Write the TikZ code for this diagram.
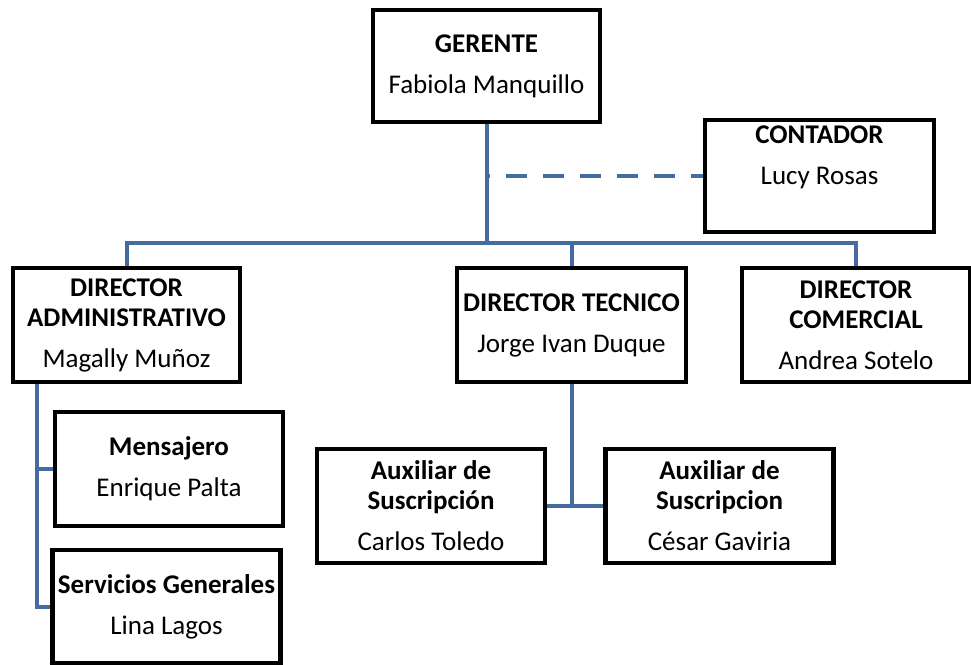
\documentclass[tikz,border=0pt]{standalone}
\usepackage{fontspec}
\setmainfont{Carlito}
\usetikzlibrary{backgrounds}
\definecolor{linea}{RGB}{68,108,160}
\tikzset{
  caja/.style={draw, fill=white, line width=2.2pt, align=center,
    minimum width=#1, minimum height=57pt, inner sep=0pt,
    font=\fontsize{13.5}{15}\selectfont},
  caja/.default=114pt,
  rama/.style={draw=linea, line width=2pt}
}

\begin{document}
\begin{tikzpicture}[x=0.5pt,y=-0.5pt]
\useasboundingbox (0,0) rectangle (971,665);

% Gerencia y contador
\node[caja=113.5pt, minimum height=56pt] (gerente) at (486.5,66)
  {\textbf{GERENTE}\\[5.5pt]Fabiola Manquillo};
\node[caja=114.5pt, minimum height=56pt] (contador) at (819.5,176)
  {\textbf{CONTADOR}\\[5.5pt]Lucy Rosas\\[5.5pt]\mbox{}};

% Directores
\node[caja=113.5pt] (diradm) at (126.5,325)
  {\textbf{DIRECTOR}\\\textbf{ADMINISTRATIVO}\\[5.5pt]Magally Muñoz};
\node[caja=114.5pt] (dirtec) at (571.5,325)
  {\textbf{DIRECTOR TECNICO}\\[5.5pt]Jorge Ivan Duque};
\node[caja] (dircom) at (856,325)
  {\textbf{DIRECTOR}\\\textbf{COMERCIAL}\\[5.5pt]Andrea Sotelo};

% Personal de apoyo
\node[caja] (mensajero) at (169,469)
  {\textbf{Mensajero}\\[5.5pt]Enrique Palta};
\node[caja, minimum height=56.5pt] (servicios) at (166.5,606.5)
  {\textbf{Servicios Generales}\\[5.5pt]Lina Lagos};
\node[caja] (aux1) at (431,506)
  {\textbf{Auxiliar de}\\\textbf{Suscripción}\\[5.5pt]Carlos Toledo};
\node[caja] (aux2) at (719.5,506)
  {\textbf{Auxiliar de}\\\textbf{Suscripcion}\\[5.5pt]César Gaviria};

% Puntos de las ramas
\coordinate (bus) at (gerente.south |- 0,243);
\coordinate (eje) at (37,382);

\begin{scope}[on background layer]
% Gerente a directores
\draw[rama] (gerente.south) -- (bus);
\draw[rama] (diradm.north) |- (bus) -| (dircom.north);
\draw[rama] (dirtec.north) -- (dirtec.north |- bus);
% Contador (asesor)
\draw[rama, dash pattern=on 10.5pt off 8pt, dash phase=9pt] (contador.west -| bus) -- (contador.west);

% Director administrativo
\draw[rama] (eje) |- (servicios.west);
\draw[rama] (eje |- mensajero.west) -- (mensajero.west);

% Director tecnico
\draw[rama] (dirtec.south) -- (dirtec.south |- aux1.east);
\draw[rama] (aux1.east) -- (aux2.west);
\end{scope}
\end{tikzpicture}
\end{document}
